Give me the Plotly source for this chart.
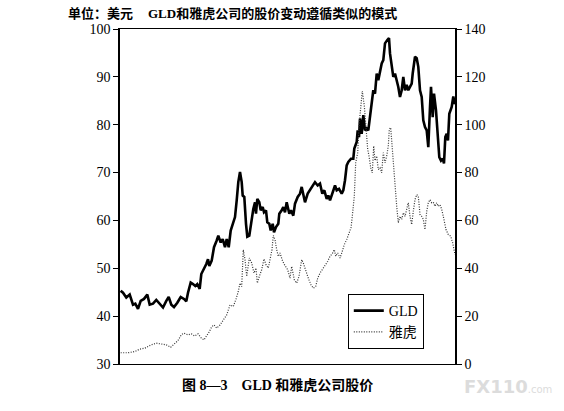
import plotly.graph_objects as go

# values (x = position along the time axis, no labels in original)
gld_t = [0.7, 3, 6.3, 9.7, 13, 15.3, 18, 20.7, 24, 27.3, 29.7, 33, 36.3, 39.7, 43, 46.3, 48.7, 51.3, 54, 57.3,
         60.7, 64, 66.3, 68, 70.7, 73, 75.3, 77.3, 79.7, 81.3, 84, 86.3, 88, 89.3, 91.7, 94, 96.7, 98.3, 100.7, 102.7,
         105, 106.7, 108.7, 110.7, 113.3, 115, 116.7, 118.3, 120, 121.7, 122.7, 124.3, 126, 127.3, 129.3, 131.7, 133.3, 135, 136, 137.3,
         139.3, 140.7, 142.7, 144, 146, 147.3, 149.3, 150.7, 152.7, 154, 156, 158.3, 159.3, 161.7, 163.3, 165, 166.7, 169.3, 171, 173.3,
         175, 177.7, 180, 181.7, 183.3, 185, 187.7, 190, 192.3, 195, 197.7, 200, 202.3, 204.3, 206.7, 208.3, 210, 212.3, 215, 216.7,
         219, 221.7, 223.3, 225, 226.7, 228.3, 231, 233.3, 234.3, 236.7, 237.7, 239, 240, 241.7, 243.3, 245, 246.7, 248.3, 251.7, 253.3,
         255, 256.7, 258.3, 260, 261.7, 263.3, 265, 267.3, 269, 270, 271.7, 273.3, 275, 276.7, 278.3, 280, 281.7, 283.3, 285, 286.7,
         288.3, 290, 291.7, 292.7, 295, 296.7, 298.3, 300, 301.7, 303.3, 305, 306.7, 308.3, 310, 311, 312.7, 314, 316, 317.7, 319.3,
         321, 322.7, 324, 325.3, 326.7, 328, 329.3, 331.7, 333.3, 335]
gld_price = [45.3, 44.9, 43.9, 44.5, 42.4, 42.6, 41.5, 43.2, 43.6, 44.5, 42.4, 42.6, 43.4, 42.6, 41.8, 43.2, 44.0, 42.4, 41.9, 42.8,
             44.0, 43.6, 43.1, 44.9, 47.0, 46.7, 46.3, 46.7, 45.7, 48.8, 49.8, 50.9, 51.9, 50.5, 51.6, 54.4, 55.8, 56.8, 55.4, 56.1,
             54.4, 56.1, 54.4, 57.9, 59.6, 60.7, 64.2, 68.0, 70.1, 68.0, 65.2, 64.9, 59.3, 56.6, 56.8, 60.7, 62.4, 63.8, 61.4, 64.5,
             63.8, 62.1, 62.8, 61.7, 62.1, 59.6, 59.3, 57.9, 59.3, 57.5, 58.6, 59.3, 61.4, 62.1, 62.8, 61.7, 63.8, 61.4, 62.1, 61.0,
             63.5, 64.9, 65.6, 67.0, 65.6, 63.8, 65.6, 66.3, 67.0, 68.0, 67.3, 67.7, 65.6, 66.3, 64.5, 65.2, 64.2, 65.6, 67.3, 66.3,
             66.6, 65.6, 66.3, 68.4, 71.5, 72.2, 72.9, 72.9, 75.0, 76.4, 78.8, 77.4, 81.3, 78.1, 82.0, 78.8, 79.2, 78.8, 84.4, 87.2,
             86.5, 90.7, 89.3, 91.4, 92.8, 93.5, 97.0, 97.7, 98.1, 94.9, 92.1, 90.0, 90.7, 89.3, 87.9, 85.8, 87.2, 90.0, 87.2, 88.3,
             87.2, 87.9, 88.6, 90.7, 94.2, 93.9, 92.1, 87.2, 85.8, 80.9, 79.5, 78.8, 75.3, 83.7, 87.9, 81.6, 86.5, 83.0, 78.8, 73.2,
             72.5, 72.9, 71.9, 77.4, 78.1, 76.7, 82.3, 83.7, 85.9, 84.3]

yhoo_t = [0.7, 8, 14.7, 19.7, 24.7, 31.3, 36.3, 41.3, 46.3, 50.7, 54.7, 58, 61.3, 64, 68, 71.3, 74.7, 78, 81.3, 84,
          86, 89.3, 91.7, 94, 96.7, 100, 103.3, 106.7, 110, 113.3, 116, 118.3, 120, 121.7, 123.3, 125, 126.7, 129.3, 131.7, 134,
          136, 137.3, 139.3, 141.7, 144, 146, 148.3, 150, 152, 153.3, 155, 156.7, 158.3, 160, 162.7, 165, 167.7, 170, 171.7, 174.3,
          176.7, 179, 181.7, 183.3, 185.7, 188.3, 191, 193.3, 195.7, 197.7, 200, 202.3, 205, 207.7, 210, 212.3, 214.3, 215.7, 217.7, 220,
          222.3, 224.3, 226.7, 229, 231, 232.3, 234.3, 235.7, 237.7, 239, 241, 242.3, 244.3, 245.7, 247.7, 249, 251, 252.3, 253.7, 255,
          256.7, 258.3, 260, 261.7, 263.3, 265, 266.7, 268.3, 269.3, 270.7, 272, 273.3, 275, 276.7, 278.3, 280, 281.7, 283.3, 285, 286.7,
          288.3, 290, 291.7, 293.3, 295, 296.7, 298.3, 300, 301.7, 303.3, 305, 306.7, 308.3, 310, 311.7, 313.3, 315, 316.7, 318.3, 320,
          321.7, 323.3, 326, 328.3, 330.7, 332.7, 334, 335]
yhoo_price = [4.7, 4.7, 5.2, 6.2, 6.6, 8.0, 8.7, 8.3, 8.0, 7.0, 8.4, 9.8, 12.2, 12.9, 12.2, 12.6, 11.7, 12.6, 10.8, 10.1,
              11.4, 13.5, 15.6, 16.3, 15.0, 16.3, 18.4, 20.5, 24.7, 24.0, 27.1, 30.3, 33.8, 32.4, 47.8, 43.6, 36.6, 44.3, 42.2, 38.0,
              40.1, 33.8, 36.6, 39.4, 43.9, 41.5, 40.1, 44.3, 47.8, 53.7, 52.0, 47.8, 45.0, 46.4, 42.9, 41.1, 39.4, 35.9, 40.8, 35.2,
              33.8, 36.6, 43.6, 42.2, 38.7, 35.9, 33.1, 31.7, 32.4, 35.9, 38.0, 39.4, 41.5, 42.9, 45.0, 46.1, 47.8, 45.0, 46.4, 44.3,
              47.1, 49.9, 52.0, 54.8, 56.9, 61.7, 70.1, 84.1, 88.3, 99.5, 109.3, 114.1, 107.9, 99.5, 89.7, 86.9, 81.3, 79.9, 91.1, 85.0,
              86.9, 81.3, 82.0, 79.9, 88.3, 84.1, 86.9, 91.1, 98.1, 98.8, 91.1, 84.1, 74.3, 65.9, 59.0, 61.7, 60.4, 63.2, 61.7, 64.6,
              67.4, 61.7, 58.3, 63.8, 68.7, 70.8, 70.1, 62.5, 61.7, 60.4, 56.2, 63.8, 67.4, 68.7, 67.4, 67.6, 65.9, 67.4, 65.9, 66.6,
              64.6, 61.7, 56.2, 54.1, 53.4, 50.6, 47.8, 45.7]

left_ticks = [30, 40, 50, 60, 70, 80, 90, 100]
right_ticks = [0, 20, 40, 60, 80, 100, 120, 140]

serif = "Liberation Serif, Noto Sans CJK SC, serif"

fig = go.Figure()

fig.add_trace(go.Scatter(
    x=gld_t, y=gld_price, name="GLD", mode="lines",
    line=dict(color="black", width=2.6)
))

fig.add_trace(go.Scatter(
    x=yhoo_t, y=yhoo_price, name="雅虎", mode="lines", yaxis="y2",
    line=dict(color="#333333", width=1.2, dash="1px,1.5px")
))

fig.update_layout(
    width=564, height=411,
    margin=dict(l=120, r=109, t=29, b=47),
    paper_bgcolor="white", plot_bgcolor="white",
    font=dict(family=serif, size=13, color="black"),
    showlegend=True,
    legend=dict(
        x=0.68, y=0.209, xanchor="left", yanchor="top",
        bordercolor="black", borderwidth=1, bgcolor="white",
        font=dict(family=serif, size=14), tracegroupgap=0
    ),
    xaxis=dict(
        range=[0, 335], showgrid=False, zeroline=False,
        showline=True, linecolor="black", linewidth=1, mirror=True,
        showticklabels=False, ticks=""
    ),
    yaxis=dict(
        range=[30, 100], tickvals=left_ticks, showgrid=False, zeroline=False,
        showline=True, linecolor="black", linewidth=1.5,
        ticks="outside", ticklen=5, tickcolor="black",
        tickfont=dict(family=serif, size=14)
    ),
    yaxis2=dict(
        range=[0, 140], tickvals=right_ticks, overlaying="y", side="right",
        showgrid=False, zeroline=False,
        showline=True, linecolor="black", linewidth=1.5,
        ticks="outside", ticklen=5, tickcolor="black",
        tickfont=dict(family=serif, size=14)
    ),
)

# header, caption and watermark
fig.add_annotation(text="<b>单位：美元</b>", xref="paper", yref="paper",
                   x=-0.161, y=1.0, yshift=16, xanchor="left", yanchor="middle",
                   showarrow=False, font=dict(family=serif, size=13))
fig.add_annotation(text="<b>GLD和雅虎公司的股价变动遵循类似的模式</b>", xref="paper", yref="paper",
                   x=0.078, y=1.0, yshift=16, xanchor="left", yanchor="middle",
                   showarrow=False, font=dict(family=serif, size=13))
fig.add_annotation(text="<b>图 8—3    GLD 和雅虎公司股价</b>", xref="paper", yref="paper",
                   x=0.18, y=0.0, yshift=-21, xanchor="left", yanchor="middle",
                   showarrow=False, font=dict(family=serif, size=14))
fig.add_annotation(text="<b>FX110</b><span style='font-size:10px'>.com</span>", xref="paper", yref="paper",
                   x=1.02, y=0.0, yshift=-22, xanchor="left", yanchor="middle",
                   showarrow=False, font=dict(family="DejaVu Sans", size=18, color="#dcdcdc"))

# drop the default 8px body margin so the figure fills the window exactly
fig.write_html("out.html", config={"displayModeBar": False},
               post_script="document.body.style.margin = '0px';")
